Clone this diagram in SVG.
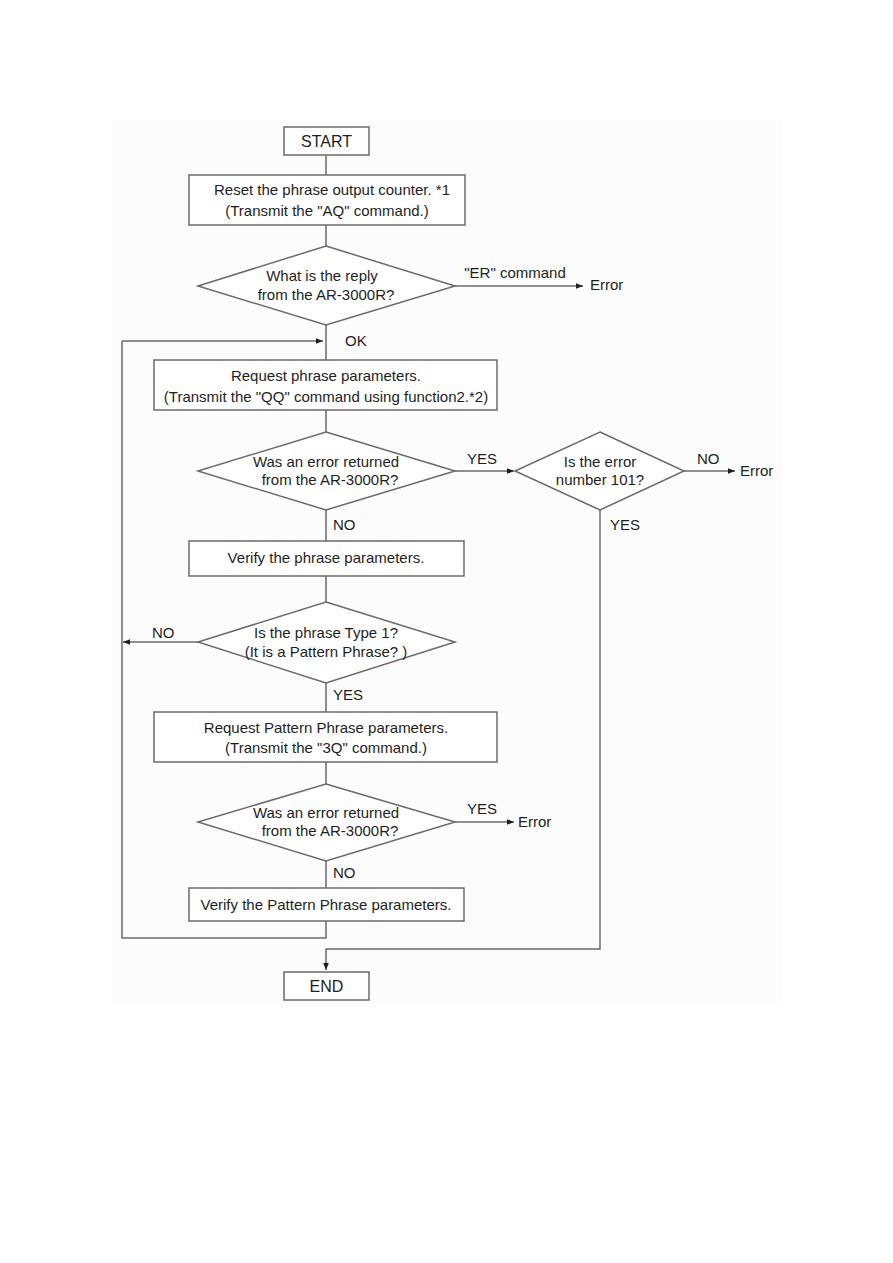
<svg xmlns="http://www.w3.org/2000/svg" width="893" height="1263" viewBox="0 0 893 1263">
<style>
.b{fill:#fff;stroke:#6a6a6a;stroke-width:1.5}
.c{fill:none;stroke:#6a6a6a;stroke-width:1.5}
text{font-family:"Liberation Sans",Arial,sans-serif;font-size:15px;fill:#1e1e1e}
.m{text-anchor:middle}
.big{font-size:16px}
</style>
<defs>
<marker id="ah" viewBox="0 0 10 10" refX="10" refY="5" markerWidth="7" markerHeight="7" markerUnits="userSpaceOnUse" orient="auto">
<path d="M0,1 L10,5 L0,9 Z" fill="#1e1e1e"/>
</marker>
</defs>
<rect width="893" height="1263" fill="#fff"/>
<rect x="111" y="120" width="671" height="883" fill="#fcfcfc"/>
<g id="connectors">
<path class="c" d="M326,155 V175"/>
<path class="c" d="M326,225 V246"/>
<path class="c" d="M455,286 H583" marker-end="url(#ah)"/>
<path class="c" d="M326,325 V360"/>
<path class="c" d="M122,341 H323" marker-end="url(#ah)"/>
<path class="c" d="M326,410 V432"/>
<path class="c" d="M455,471 H514" marker-end="url(#ah)"/>
<path class="c" d="M684,471 H735" marker-end="url(#ah)"/>
<path class="c" d="M326,510 V541"/>
<path class="c" d="M326,576 V602"/>
<path class="c" d="M198,642 H123" marker-end="url(#ah)"/>
<path class="c" d="M326,683 V712"/>
<path class="c" d="M326,762 V784"/>
<path class="c" d="M455,822 H514" marker-end="url(#ah)"/>
<path class="c" d="M326,861 V888"/>
<path class="c" d="M326,921 V938 H122 V341"/>
<path class="c" d="M600,510 V949 H326 V970" marker-end="url(#ah)"/>
</g>
<g id="start"><rect class="b" x="284" y="127" width="85" height="28"/><text class="m big" x="326.5" y="147">START</text></g>
<g id="reset"><rect class="b" x="189" y="175" width="276" height="50"/><text class="m" x="332" y="195">Reset the phrase output counter. *1</text><text class="m" x="327" y="216">(Transmit the "AQ" command.)</text></g>
<g id="d1"><polygon class="b" points="326,246 455,286 326,325 198,286"/><text class="m" x="322" y="281">What is the reply</text><text class="m" x="326" y="300">from the AR-3000R?</text></g>
<g id="l-er"><text class="m" x="515" y="278">"ER" command</text><text x="590" y="290">Error</text></g>
<g id="l-ok"><text x="345" y="346">OK</text></g>
<g id="req"><rect class="b" x="154" y="360" width="343" height="50"/><text class="m" x="326" y="381">Request phrase parameters.</text><text class="m" x="326" y="402">(Transmit the "QQ" command using function2.*2)</text></g>
<g id="d2"><polygon class="b" points="326,432 455,471 326,510 198,471"/><text class="m" x="326" y="467">Was an error returned</text><text class="m" x="330" y="485">from the AR-3000R?</text></g>
<g id="l-d2"><text x="467" y="464">YES</text><text x="333" y="530">NO</text></g>
<g id="d3"><polygon class="b" points="600,432 684,471 600,510 515,471"/><text class="m" x="600" y="467">Is the error</text><text class="m" x="600" y="485">number 101?</text></g>
<g id="l-d3"><text x="697" y="464">NO</text><text x="740" y="476">Error</text><text x="610" y="530">YES</text></g>
<g id="verify"><rect class="b" x="189" y="541" width="275" height="35"/><text class="m" x="326" y="563">Verify the phrase parameters.</text></g>
<g id="d4"><polygon class="b" points="326,602 455,642 326,683 198,642"/><text class="m" x="326" y="638">Is the phrase Type 1?</text><text class="m" x="326" y="657">(It is a Pattern Phrase? )</text></g>
<g id="l-d4"><text x="152" y="638">NO</text><text x="333" y="700">YES</text></g>
<g id="reqp"><rect class="b" x="154" y="712" width="343" height="50"/><text class="m" x="326" y="733">Request Pattern Phrase parameters.</text><text class="m" x="326" y="753">(Transmit the "3Q" command.)</text></g>
<g id="d5"><polygon class="b" points="326,784 455,822 326,861 198,822"/><text class="m" x="326" y="818">Was an error returned</text><text class="m" x="330" y="836">from the AR-3000R?</text></g>
<g id="l-d5"><text x="467" y="814">YES</text><text x="518" y="827">Error</text><text x="333" y="878">NO</text></g>
<g id="verifyp"><rect class="b" x="189" y="888" width="275" height="33"/><text class="m" x="326" y="910">Verify the Pattern Phrase parameters.</text></g>
<g id="end"><rect class="b" x="284" y="972" width="85" height="28"/><text class="m big" x="326.5" y="992">END</text></g>
</svg>
